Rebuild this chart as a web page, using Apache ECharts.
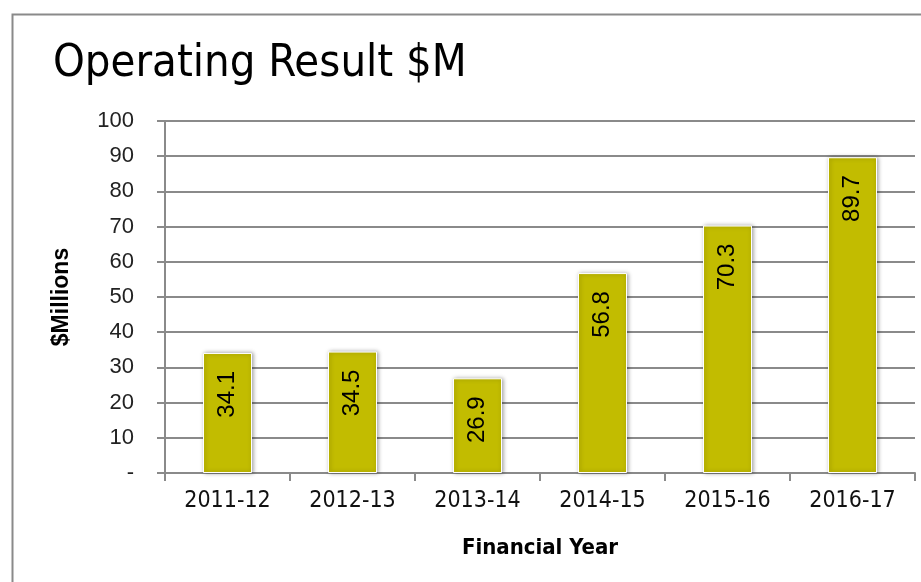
<!DOCTYPE html>
<html>
<head>
<meta charset="utf-8">
<script src="https://cdn.jsdelivr.net/npm/echarts@6/dist/echarts.min.js"></script>
<style>
html,body{margin:0;padding:0;background:#fff;}
#chart{width:921px;height:582px;}
</style>
</head>
<body>
<div id="chart"></div>
<script>
const categories = ['2011-12','2012-13','2013-14','2014-15','2015-16','2016-17'];
const values = [34.1, 34.5, 26.9, 56.8, 70.3, 89.7];
const titleText = 'Operating Result $M';
const yAxisName = '$Millions';
const xAxisName = 'Financial Year';

const narrow = '"Liberation Sans Narrow","DejaVu Sans Condensed","Roboto Condensed",sans-serif';
const arial = '"Liberation Sans",Arial,sans-serif';
const chart = echarts.init(document.getElementById('chart'), null, {renderer:'canvas'});
chart.setOption({
  backgroundColor:'#fff',
  animation:false,
  graphic:[{
    type:'rect', left:10, top:12, silent:true,
    shape:{x:0,y:0,width:1000,height:1000},
    style:{fill:'none', stroke:'#8a8a8a', lineWidth:2}
  }],
  title:{
    text:titleText, left:48, top:37,
    textStyle:{fontFamily:narrow, fontSize:45, fontWeight:'normal', color:'#000'}
  },
  grid:{left:165, right:6, top:121, bottom:109},
  xAxis:{
    type:'category', data:categories,
    name:xAxisName, nameLocation:'middle', nameGap:64,
    nameTextStyle:{fontFamily:narrow, fontSize:22, fontWeight:'bold', color:'#000'},
    axisLine:{lineStyle:{color:'#8a8a8a', width:2}},
    axisTick:{show:true, length:8, alignWithLabel:false, lineStyle:{color:'#8a8a8a', width:2}},
    axisLabel:{fontFamily:narrow, fontSize:23, color:'#111', margin:17, interval:0}
  },
  yAxis:{
    type:'value', min:0, max:100, interval:10,
    name:yAxisName, nameLocation:'middle', nameGap:92, nameRotate:90,
    nameTextStyle:{fontFamily:arial, fontSize:23, fontWeight:'bold', color:'#000'},
    axisLine:{show:true, lineStyle:{color:'#8a8a8a', width:2}},
    axisTick:{show:true, length:8, lineStyle:{color:'#8a8a8a', width:2}},
    splitLine:{lineStyle:{color:'#8a8a8a', width:2}},
    axisLabel:{fontFamily:arial, fontSize:22, color:'#222', margin:31,
      formatter:function(v){return v===0?'-':String(v);}}
  },
  series:[{
    type:'bar', data:values, barWidth:49,
    itemStyle:{color:'#C2BC00', borderColor:'#fff', borderWidth:1, shadowBlur:4, shadowColor:'rgba(0,0,0,0.35)', shadowOffsetX:1, shadowOffsetY:0},
    label:{show:true, position:'insideTop', rotate:90, align:'right', verticalAlign:'middle', distance:18,
      fontFamily:arial, fontSize:24, color:'#000',
      formatter:function(p){return p.value.toFixed(1);}}
  }]
});
</script>
</body>
</html>
